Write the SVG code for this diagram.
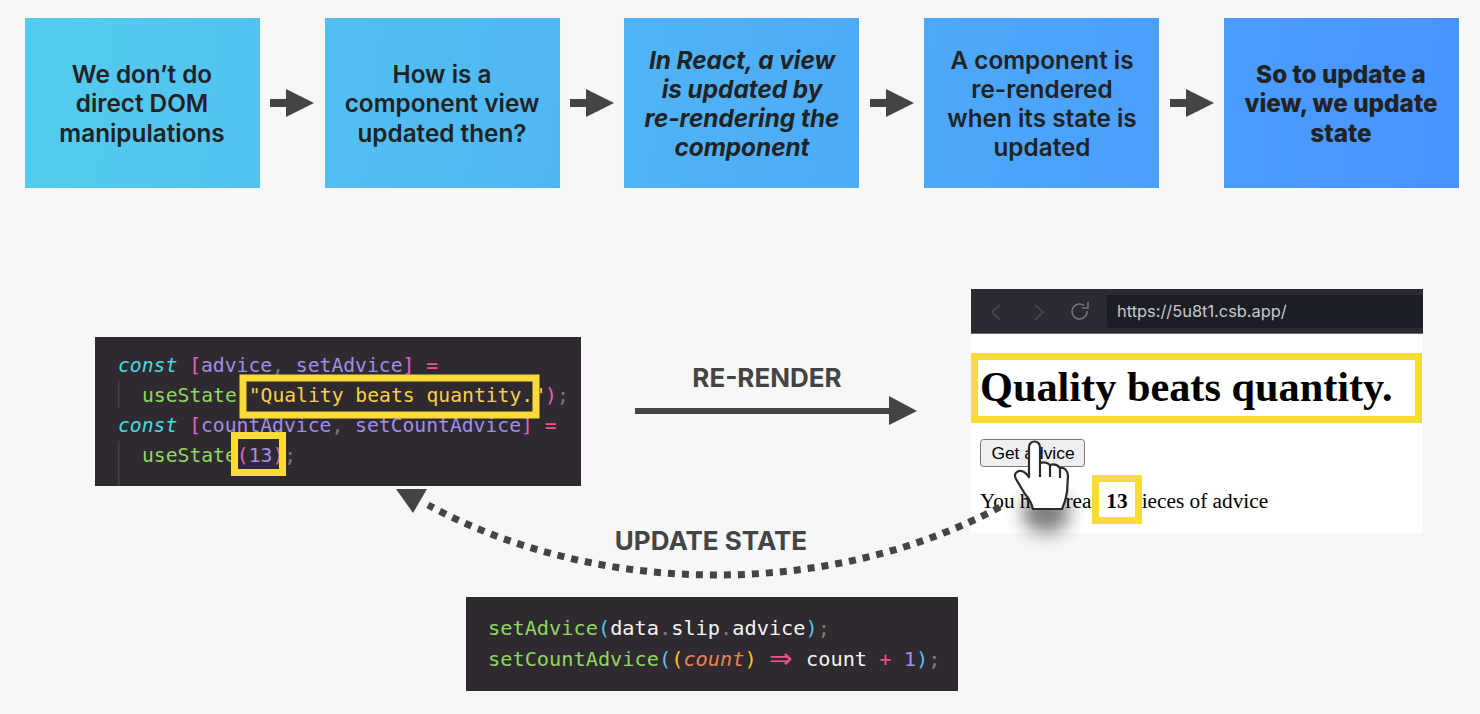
<svg xmlns="http://www.w3.org/2000/svg" width="1480" height="714" viewBox="0 0 1480 714">
<style>
.s{font-family:Inter,"Liberation Sans",sans-serif;font-size:24.300px;font-weight:600;fill:#222;text-anchor:middle}
.b{font-weight:800}.i{font-style:italic;font-weight:700}
.l{font-family:Inter,"Liberation Sans",sans-serif;font-size:26px;font-weight:700;fill:#444;text-anchor:middle}
.c{font-family:"DejaVu Sans Mono","Liberation Mono",monospace;font-size:19.7px;white-space:pre}
.d{font-size:20.3px}
.y{fill:none;stroke:#f9dc3a;stroke-width:7}
.a{fill:#444}
.v{fill:#a48ce8}.g{fill:#8fd85e}.p{fill:#e85fc8}.r{fill:#f2508a}.t{fill:#45dae4;font-style:italic}.q{fill:#7c7c7c}.o{fill:#fad048}
.w{fill:#f5f5f5}.n{fill:#58c0f0}.u{fill:#ffc800}.m{fill:#f08350;font-style:italic}
.h{font-family:"Liberation Serif",serif;fill:#000}
.e{font-family:"DejaVu Sans",sans-serif;font-size:28px;font-weight:400}
</style>
<defs>
<linearGradient id="grad" gradientUnits="userSpaceOnUse" x1="25" y1="18" x2="1459" y2="187"><stop offset="0" stop-color="#54ccee"/><stop offset="1" stop-color="#4893ff"/></linearGradient>
<filter id="blur" x="-80%" y="-80%" width="260%" height="260%"><feGaussianBlur stdDeviation="9"/></filter>
</defs>
<rect width="1480" height="714" fill="#f7f7f7"/>

<g id="step1"><rect x="25" y="18" width="235" height="170" fill="url(#grad)"/><text class="s" x="142" y="83">We don’t do</text><text class="s" x="142" y="112">direct DOM</text><text class="s" x="142" y="142">manipulations</text></g>
<g id="step2"><rect x="325" y="18" width="235" height="170" fill="url(#grad)"/><text class="s" x="442" y="83">How is a</text><text class="s" x="442" y="112">component view</text><text class="s" x="442" y="142">updated then?</text></g>
<g id="step3"><rect x="624" y="18" width="235" height="170" fill="url(#grad)"/><text class="s i" x="742" y="69">In React, a view</text><text class="s i" x="742" y="98">is updated by</text><text class="s i" x="742" y="127">re-rendering the</text><text class="s i" x="742" y="156">component</text></g>
<g id="step4"><rect x="924" y="18" width="235" height="170" fill="url(#grad)"/><text class="s" x="1042" y="69">A component is</text><text class="s" x="1042" y="98">re-rendered</text><text class="s" x="1042" y="127">when its state is</text><text class="s" x="1042" y="156">updated</text></g>
<g id="step5"><rect x="1224" y="18" width="235" height="170" fill="url(#grad)"/><text class="s b" x="1341" y="83">So to update a</text><text class="s b" x="1341" y="112">view, we update</text><text class="s b" x="1341" y="142">state</text></g>

<g id="code-state">
<rect x="95" y="337" width="486" height="149" fill="#2e2a2f"/>
<rect x="118" y="381" width="1.5" height="27" fill="#45414a"/><rect x="118" y="441" width="1.5" height="45" fill="#45414a"/>
<text class="c" x="118" y="372"><tspan class="t">const</tspan> <tspan class="p">[</tspan><tspan class="v">advice</tspan><tspan class="q">,</tspan> <tspan class="v">setAdvice</tspan><tspan class="p">]</tspan> <tspan class="r">=</tspan></text>
<text class="c" x="142" y="402"><tspan class="g">useState</tspan><tspan class="p">(</tspan><tspan class="o">"Quality beats quantity."</tspan><tspan class="p">)</tspan><tspan class="q">;</tspan></text>
<text class="c" x="118" y="432"><tspan class="t">const</tspan> <tspan class="p">[</tspan><tspan class="v">countAdvice</tspan><tspan class="q">,</tspan> <tspan class="v">setCountAdvice</tspan><tspan class="p">]</tspan> <tspan class="r">=</tspan></text>
<text class="c" x="142" y="462"><tspan class="g">useState</tspan><tspan class="p">(</tspan><tspan class="v">13</tspan><tspan class="p">)</tspan><tspan class="q">;</tspan></text>
<rect class="y" x="243" y="378" width="293" height="37"/>
<rect class="y" x="234.500" y="435.500" width="48" height="37"/>
</g>

<g id="code-update">
<rect x="466" y="597" width="492" height="94" fill="#2e2a2f"/>
<text class="c d" x="488" y="635"><tspan class="g">setAdvice</tspan><tspan class="n">(</tspan><tspan class="w">data</tspan><tspan class="q">.</tspan><tspan class="w">slip</tspan><tspan class="q">.</tspan><tspan class="w">advice</tspan><tspan class="n">)</tspan><tspan class="q">;</tspan></text>
<text class="c d" x="488" y="666"><tspan class="g">setCountAdvice</tspan><tspan class="n">(</tspan><tspan class="u">(</tspan><tspan class="m">count</tspan><tspan class="u">)</tspan></text>
<text class="e r" x="769" y="668">⇒</text>
<text class="c d" x="806" y="666"><tspan class="w">count</tspan> <tspan class="r">+</tspan> <tspan class="v">1</tspan><tspan class="n">)</tspan><tspan class="q">;</tspan></text>
</g>

<g id="browser">
<rect x="971" y="334" width="452" height="199" fill="#fff"/>
<rect x="971" y="289" width="452" height="45" fill="#2a2a33"/>
<rect x="971" y="333" width="452" height="1" fill="#6a6a70"/>
<rect x="1107" y="295" width="316" height="33" rx="2" fill="#1c1e25"/>
<path d="M1000,305 L992,312 L1000,320 M1035,305 L1043,312 L1035,320" fill="none" stroke="#45454f" stroke-width="1.800"/>
<path d="M1087,311 A7.500,7.500 0 1 1 1084,305.500 M1088,302 V308 H1082" fill="none" stroke="#74747c" stroke-width="1.500"/>
<text x="1117" y="317" font-family="Inter,'Liberation Sans',sans-serif" font-size="16.400" fill="#c8c8cc">https://5u8t1.csb.app/</text>
<text class="h" x="980" y="401" font-size="42.300" font-weight="700">Quality beats quantity.</text>
<rect x="980.500" y="439.500" width="104" height="27" rx="3" fill="#efefef" stroke="#767676"/>
<text x="1033" y="459" font-family="'Liberation Sans',sans-serif" font-size="17.400" fill="#000" text-anchor="middle">Get advice</text>
<text class="h" x="980" y="508" font-size="21.300">You have read</text>
<text class="h" x="1131" y="508" font-size="21.300">pieces of advice</text>
<rect x="1096" y="479" width="41" height="41" fill="#fff"/>
<text class="h" x="1117" y="508" font-size="21.300" font-weight="700" text-anchor="middle">13</text>
<rect class="y" x="974.500" y="356.500" width="444" height="63"/>
<rect class="y" x="1095.500" y="478.500" width="43" height="42"/>
</g>

<g id="pointer">
<ellipse cx="1046" cy="513" rx="24" ry="20" fill="#000" opacity=".5" filter="url(#blur)"/>
<path d="M1029,447 A5.500,5.500 0 0 1 1040,447 L1040,463 Q1046,461 1050,465 Q1056,463 1060,468 Q1067,467 1068,476 L1067,492 Q1066,500 1062,509 L1033,509 Q1031,501 1025,494 L1016,479 Q1013,473 1019,471 Q1024,470 1029,477 Z" fill="#fff" stroke="#2b2b2b" stroke-width="2.200" stroke-linejoin="round"/>
<path d="M1040,463 V477 M1050,465 V477 M1060,468 V478" fill="none" stroke="#2b2b2b" stroke-width="2.200"/>
</g>

<g id="connectors">
<path class="a" d="M270,99 H286 V89 L314,103 L286,117 V107 H270 Z"/>
<path class="a" d="M570,99 H586 V89 L614,103 L586,117 V107 H570 Z"/>
<path class="a" d="M870,99 H886 V89 L914,103 L886,117 V107 H870 Z"/>
<path class="a" d="M1170,99 H1186 V89 L1214,103 L1186,117 V107 H1170 Z"/>
<path class="a" d="M635,408 H889 V396 L917,411 L889,425 V414 H635 Z"/>
<path d="M1000,507 C830,598 600,598 428,505" fill="none" stroke="#444" stroke-width="7" stroke-dasharray="7 7"/>
<path class="a" d="M396,489 L427,489 L413,513 Z"/>
</g>
<text class="l" x="767" y="387">RE-RENDER</text>
<text class="l" x="711" y="550">UPDATE STATE</text>
</svg>
